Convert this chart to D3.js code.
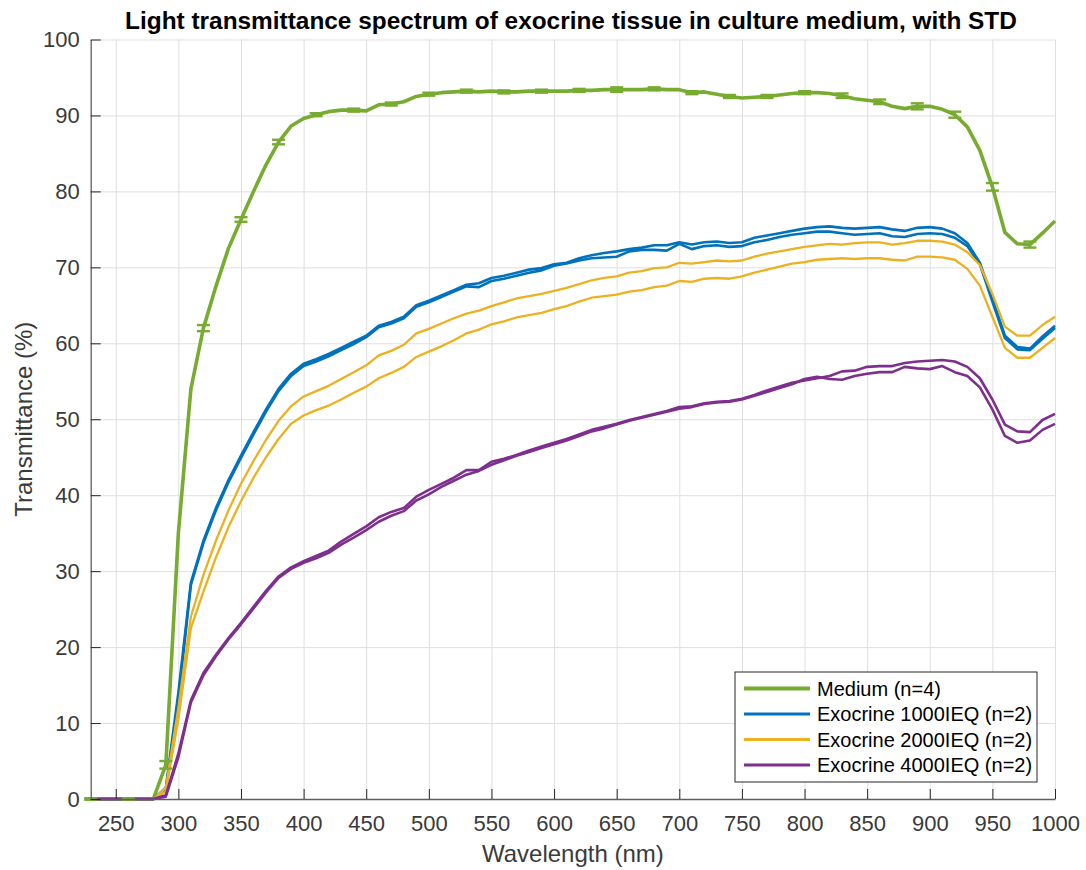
<!DOCTYPE html>
<html>
<head>
<meta charset="utf-8">
<script src="https://cdn.jsdelivr.net/npm/d3@7"></script>
<style>
    body { margin: 0; background: #fff; }
    svg { display: block; font-family: 'Liberation Sans', Arial, Helvetica, sans-serif; }
</style>
</head>
<body>
<svg></svg>
<script>
// wavelength (nm), one value every 10 nm
const wavelengths = [230, 240, 250, 260, 270, 280, 290, 300, 310, 320, 330, 340, 350, 360, 370, 380, 390,
    400, 410, 420, 430, 440, 450, 460, 470, 480, 490, 500, 510, 520, 530, 540, 550, 560, 570, 580, 590,
    600, 610, 620, 630, 640, 650, 660, 670, 680, 690, 700, 710, 720, 730, 740, 750, 760, 770, 780, 790,
    800, 810, 820, 830, 840, 850, 860, 870, 880, 890, 900, 910, 920, 930, 940, 950, 960, 970, 980, 990, 1000];

const medium = [0, 0, 0, 0, 0, 0, 4.5, 35, 54, 62, 67.5, 72.5, 76.3, 80, 83.5, 86.5, 88.6,
    89.6, 90.1, 90.5, 90.7, 90.7, 90.6, 91.4, 91.5, 91.8, 92.5, 92.8, 93.0, 93.1, 93.2, 93.1, 93.2, 93.1, 93.1, 93.2, 93.2,
    93.2, 93.2, 93.3, 93.3, 93.4, 93.4, 93.4, 93.4, 93.5, 93.4, 93.4, 93.0, 93.1, 92.8, 92.5, 92.3, 92.4, 92.5, 92.7, 92.9,
    93.0, 93.0, 92.9, 92.6, 92.2, 92.0, 91.8, 91.2, 90.9, 91.2, 91.2, 90.8, 90.1, 88.5, 85.4, 80.6, 74.6, 73.1, 73.0, 74.5, 76.1];

// error bars of the medium curve
const stdWavelengths = [230, 260, 290, 320, 350, 380, 410, 440, 470, 500, 530, 560, 590,
    620, 650, 680, 710, 740, 770, 800, 830, 860, 890, 920, 950, 980];
const mediumStd = [0.1, 0.1, 0.5, 0.4, 0.3, 0.3, 0.2, 0.2, 0.2, 0.2, 0.2, 0.2, 0.2,
    0.2, 0.3, 0.2, 0.2, 0.2, 0.2, 0.2, 0.3, 0.3, 0.4, 0.4, 0.5, 0.4];

const exo1000a = [0, 0, 0, 0, 0, 0, 1.5, 14, 28.5, 34, 38.3, 42, 45.2, 48.3, 51.3, 54, 56,
    57.3, 57.9, 58.6, 59.4, 60.2, 61.0, 62.3, 62.8, 63.5, 65.0, 65.6, 66.3, 67.0, 67.7, 67.9, 68.6, 68.9, 69.3, 69.7, 69.9,
    70.4, 70.6, 71.2, 71.6, 71.9, 72.1, 72.4, 72.6, 72.9, 72.9, 73.3, 73.0, 73.3, 73.4, 73.2, 73.3, 73.9, 74.2, 74.5, 74.8,
    75.1, 75.3, 75.4, 75.2, 75.1, 75.2, 75.3, 75.0, 74.8, 75.2, 75.3, 75.1, 74.5, 73.2, 70.6, 65.9, 61.0, 59.5, 59.3, 60.9, 62.3];
const exo1000b = [0, 0, 0, 0, 0, 0, 1.2, 13, 28.2, 33.7, 38.0, 41.7, 44.9, 48.0, 51.0, 53.7, 55.7,
    57.0, 57.6, 58.3, 59.1, 59.9, 60.8, 62.1, 62.6, 63.3, 64.8, 65.4, 66.1, 66.8, 67.5, 67.4, 68.2, 68.5, 68.9, 69.3, 69.6,
    70.2, 70.5, 70.9, 71.2, 71.3, 71.4, 72.1, 72.3, 72.3, 72.2, 73.1, 72.4, 72.8, 72.9, 72.7, 72.8, 73.3, 73.6, 74.0, 74.3,
    74.5, 74.7, 74.7, 74.5, 74.3, 74.4, 74.5, 74.1, 74.0, 74.4, 74.5, 74.4, 73.9, 72.8, 70.4, 65.5, 60.7, 59.2, 59.1, 60.6, 62.0];

const exo2000a = [0, 0, 0, 0, 0, 0, 1.5, 12, 24, 29.5, 34, 38, 41.5, 44.5, 47.3, 49.8, 51.7,
    53.0, 53.7, 54.4, 55.3, 56.2, 57.1, 58.4, 59.0, 59.8, 61.3, 61.9, 62.6, 63.3, 63.9, 64.3, 64.9, 65.4, 65.9, 66.2, 66.5,
    66.9, 67.3, 67.8, 68.3, 68.6, 68.8, 69.3, 69.5, 69.9, 70.0, 70.6, 70.5, 70.7, 70.9, 70.8, 70.9, 71.4, 71.8, 72.1, 72.4,
    72.7, 72.9, 73.1, 73.0, 73.2, 73.3, 73.3, 73.0, 73.2, 73.5, 73.5, 73.4, 73.0, 72.0, 70.3, 66.5, 62.2, 61.0, 61.0, 62.4, 63.5];
const exo2000b = [0, 0, 0, 0, 0, 0, 1.0, 10.5, 22.5, 27.3, 31.8, 35.8, 39.2, 42.3, 45.0, 47.4, 49.4,
    50.5, 51.2, 51.8, 52.6, 53.5, 54.3, 55.4, 56.1, 56.9, 58.2, 58.9, 59.6, 60.4, 61.3, 61.8, 62.5, 62.9, 63.4, 63.7, 64.0,
    64.5, 64.9, 65.5, 66.0, 66.2, 66.4, 66.8, 67.0, 67.4, 67.6, 68.2, 68.1, 68.5, 68.6, 68.5, 68.8, 69.3, 69.7, 70.1, 70.5,
    70.7, 71.0, 71.1, 71.2, 71.1, 71.2, 71.2, 71.0, 70.9, 71.4, 71.4, 71.3, 71.0, 69.8, 67.6, 63.5, 59.4, 58.1, 58.1, 59.4, 60.7];

const exo4000a = [0, 0, 0, 0, 0, 0, 0.5, 6, 13, 16.6, 19, 21.2, 23.2, 25.3, 27.4, 29.3, 30.5,
    31.3, 32.0, 32.7, 33.9, 34.9, 35.9, 37.1, 37.8, 38.3, 39.8, 40.7, 41.5, 42.3, 43.3, 43.3, 44.4, 44.8, 45.3, 45.9, 46.4,
    46.9, 47.4, 48.0, 48.6, 49.0, 49.4, 49.9, 50.3, 50.7, 51.1, 51.6, 51.7, 52.1, 52.3, 52.4, 52.7, 53.2, 53.8, 54.3, 54.8,
    55.1, 55.4, 55.7, 56.3, 56.4, 56.9, 57.0, 57.0, 57.4, 57.6, 57.7, 57.8, 57.6, 56.9, 55.4, 52.6, 49.3, 48.4, 48.3, 49.9, 50.7];
const exo4000b = [0, 0, 0, 0, 0, 0, 0.3, 5.5, 12.7, 16.3, 18.8, 21.0, 23.0, 25.1, 27.2, 29.1, 30.3,
    31.1, 31.7, 32.4, 33.5, 34.4, 35.4, 36.5, 37.3, 37.9, 39.3, 40.1, 41.1, 41.9, 42.7, 43.2, 44.0, 44.6, 45.2, 45.7, 46.2,
    46.7, 47.2, 47.8, 48.4, 48.8, 49.3, 49.8, 50.2, 50.6, 51.0, 51.4, 51.6, 52.0, 52.2, 52.3, 52.6, 53.1, 53.6, 54.1, 54.6,
    55.3, 55.6, 55.3, 55.2, 55.7, 56.0, 56.2, 56.2, 56.9, 56.7, 56.6, 57.0, 56.2, 55.7, 54.2, 51.3, 47.8, 46.9, 47.2, 48.6, 49.4];

const xTicks = [250, 300, 350, 400, 450, 500, 550, 600, 650, 700, 750, 800, 850, 900, 950, 1000];
const yTicks = [0, 10, 20, 30, 40, 50, 60, 70, 80, 90, 100];

const legendLabels = ['Medium (n=4)', 'Exocrine 1000IEQ (n=2)', 'Exocrine 2000IEQ (n=2)', 'Exocrine 4000IEQ (n=2)'];
const colors = ['#77AC30', '#0072BD', '#EDB120', '#7E2F8E'];
const widths = [3.6, 2.6, 2.3, 2.6];

let width = 1086;
let height = 870;
let plotLeft = 90.7, plotRight = 1055, plotTop = 39.5, plotBottom = 799;

let xScale, yScale;
let svg = d3.select('svg');

const drawCanvas = () => {
    svg.attr('width', width);
    svg.attr('height', height);
}

const generateScales = () => {
    xScale = d3.scaleLinear().domain([230, 1000]).range([plotLeft, plotRight]);
    yScale = d3.scaleLinear().domain([0, 100]).range([plotBottom, plotTop]);
}

const drawGrid = () => {
    let gx = svg.append('g')
        .attr('transform', 'translate(0,' + plotBottom + ')')
        .call(d3.axisBottom(xScale).tickValues(xTicks).tickSize(-(plotBottom - plotTop)).tickFormat(''));
    let gy = svg.append('g')
        .attr('transform', 'translate(' + plotLeft + ',0)')
        .call(d3.axisLeft(yScale).tickValues(yTicks).tickSize(-(plotRight - plotLeft)).tickFormat(''));
    [gx, gy].forEach(g => {
        g.select('.domain').remove();
        g.selectAll('line').attr('stroke', '#dfdfdf').attr('stroke-width', 1);
    });
}

const drawLines = () => {
    let line = d3.line()
        .x((d, i) => xScale(wavelengths[i]))
        .y(d => yScale(d));

    let series = [
        { values: medium, c: 0 },
        { values: exo1000a, c: 1 },
        { values: exo1000b, c: 1 },
        { values: exo2000a, c: 2 },
        { values: exo2000b, c: 2 },
        { values: exo4000a, c: 3 },
        { values: exo4000b, c: 3 }
    ];

    svg.append('g')
        .selectAll('path')
        .data(series)
        .enter()
        .append('path')
        .attr('d', s => line(s.values))
        .attr('fill', 'none')
        .attr('stroke', s => colors[s.c])
        .attr('stroke-width', s => widths[s.c])
        .attr('stroke-linejoin', 'round');
}

const drawErrorBars = () => {
    let bars = stdWavelengths.map((w, i) => ({
        w: w,
        mean: medium[wavelengths.indexOf(w)],
        std: mediumStd[i]
    }));

    let g = svg.append('g')
        .attr('stroke', colors[0])
        .attr('stroke-width', 2.4);

    g.selectAll('.bar')
        .data(bars)
        .enter()
        .append('line')
        .attr('x1', d => xScale(d.w))
        .attr('x2', d => xScale(d.w))
        .attr('y1', d => yScale(d.mean - d.std))
        .attr('y2', d => yScale(d.mean + d.std));

    ['top', 'bot'].forEach(k => {
        g.selectAll('.cap-' + k)
            .data(bars)
            .enter()
            .append('line')
            .attr('x1', d => xScale(d.w) - 6.5)
            .attr('x2', d => xScale(d.w) + 6.5)
            .attr('y1', d => yScale(k == 'top' ? d.mean + d.std : d.mean - d.std))
            .attr('y2', d => yScale(k == 'top' ? d.mean + d.std : d.mean - d.std));
    });
}

const generateAxes = () => {
    let xAxis = d3.axisBottom(xScale)
        .tickValues(xTicks)
        .tickFormat(d3.format('d'))
        .tickSizeInner(-10)
        .tickSizeOuter(0);
    let yAxis = d3.axisLeft(yScale)
        .tickValues(yTicks)
        .tickFormat(d3.format('d'))
        .tickSizeInner(-10)
        .tickSizeOuter(0);

    let gx = svg.append('g')
        .call(xAxis)
        .attr('transform', 'translate(0,' + plotBottom + ')');
    let gy = svg.append('g')
        .call(yAxis)
        .attr('transform', 'translate(' + plotLeft + ',0)');

    [gx, gy].forEach(g => {
        g.select('.domain').attr('stroke', '#5e5e5e').attr('stroke-width', 1.3);
        g.selectAll('.tick line').attr('stroke', '#262626').attr('stroke-width', 1);
        g.selectAll('.tick text')
            .attr('fill', '#3a3a3a')
            .style('font-size', '22px')
            .style('font-family', "'Liberation Sans', Arial, sans-serif");
    });
    gx.selectAll('.tick text').attr('dy', '0.71em').attr('y', 16);
    gy.selectAll('.tick text').attr('x', -11);

    svg.append('text')
        .attr('x', (plotLeft + plotRight) / 2)
        .attr('y', 862)
        .attr('text-anchor', 'middle')
        .attr('fill', '#3a3a3a')
        .style('font-size', '24px')
        .text('Wavelength (nm)');

    svg.append('text')
        .attr('transform', 'translate(32,' + ((plotTop + plotBottom) / 2) + ') rotate(-90)')
        .attr('text-anchor', 'middle')
        .attr('fill', '#3a3a3a')
        .style('font-size', '24px')
        .text('Transmittance (%)');

    svg.append('text')
        .attr('x', 571)
        .attr('y', 29)
        .attr('text-anchor', 'middle')
        .attr('fill', '#000')
        .style('font-size', '24.4px')
        .style('font-weight', 'bold')
        .text('Light transmittance spectrum of exocrine tissue in culture medium, with STD');
}

const drawLegend = () => {
    let legend = svg.append('g').attr('transform', 'translate(735,672)');

    legend.append('rect')
        .attr('width', 302)
        .attr('height', 110)
        .attr('fill', '#fff')
        .attr('stroke', '#262626')
        .attr('stroke-width', 1);

    let rows = legend.selectAll('.row')
        .data(legendLabels)
        .enter()
        .append('g')
        .attr('transform', (d, i) => 'translate(0,' + (16.5 + i * 25.5) + ')');

    rows.append('line')
        .attr('x1', 9)
        .attr('x2', 75)
        .attr('stroke', (d, i) => colors[i])
        .attr('stroke-width', (d, i) => i == 0 ? 4 : 3);

    rows.append('text')
        .attr('x', 82)
        .attr('y', 7)
        .attr('fill', '#000')
        .style('font-size', '20px')
        .text(d => d);
}

drawCanvas();
generateScales();
drawGrid();
drawLines();
drawErrorBars();
generateAxes();
drawLegend();
</script>
</body>
</html>
